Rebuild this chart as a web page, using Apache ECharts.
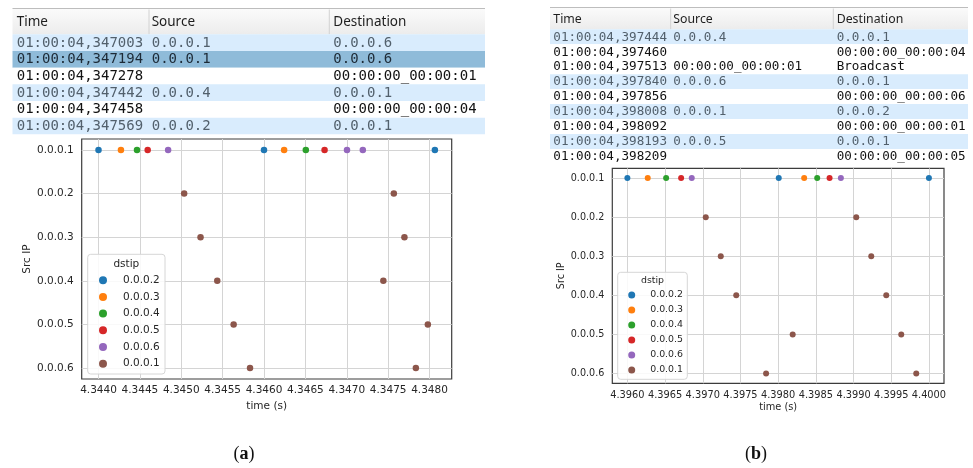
<!DOCTYPE html>
<html><head><meta charset="utf-8">
<script src="https://cdn.jsdelivr.net/npm/echarts@6/dist/echarts.min.js"></script>
<style>html,body{margin:0;padding:0;background:#fff}#c{width:973px;height:468px}</style>
</head><body><div id="c"></div>
<script>
// ---------- data ----------
const srcLabels = ['0.0.0.1','0.0.0.2','0.0.0.3','0.0.0.4','0.0.0.5','0.0.0.6'];
const dstOrder  = ['0.0.0.2','0.0.0.3','0.0.0.4','0.0.0.5','0.0.0.6','0.0.0.1'];
const xTicksA = [4.3440,4.3445,4.3450,4.3455,4.3460,4.3465,4.3470,4.3475,4.3480];
const xTicksB = [4.3960,4.3965,4.3970,4.3975,4.3980,4.3985,4.3990,4.3995,4.4000];

// panel (a) packets
const aTime = [4.344000,4.344271,4.344465,4.344594,4.344841,4.345035,4.345233,4.345435,4.345633,4.345831,
               4.346000,4.346243,4.346505,4.346732,4.347003,4.347194,4.347442,4.347569,4.347697,4.347835,4.347980,4.348065];
const aSrc  = ['0.0.0.1','0.0.0.1','0.0.0.1','0.0.0.1','0.0.0.1','0.0.0.2','0.0.0.3','0.0.0.4','0.0.0.5','0.0.0.6',
               '0.0.0.1','0.0.0.1','0.0.0.1','0.0.0.1','0.0.0.1','0.0.0.1','0.0.0.4','0.0.0.2','0.0.0.3','0.0.0.6','0.0.0.5','0.0.0.1'];
const aDst  = ['0.0.0.2','0.0.0.3','0.0.0.4','0.0.0.5','0.0.0.6','0.0.0.1','0.0.0.1','0.0.0.1','0.0.0.1','0.0.0.1',
               '0.0.0.2','0.0.0.3','0.0.0.4','0.0.0.5','0.0.0.6','0.0.0.6','0.0.0.1','0.0.0.1','0.0.0.1','0.0.0.1','0.0.0.1','0.0.0.2'];

// panel (b) packets
const bTime = [4.396000,4.396270,4.396514,4.396713,4.396854,4.397040,4.397239,4.397444,4.397840,4.398008,4.398193,
               4.398345,4.398518,4.398682,4.398832,4.399036,4.399235,4.399434,4.399633,4.399832,4.400000];
const bSrc  = ['0.0.0.1','0.0.0.1','0.0.0.1','0.0.0.1','0.0.0.1','0.0.0.2','0.0.0.3','0.0.0.4','0.0.0.6','0.0.0.1','0.0.0.5',
               '0.0.0.1','0.0.0.1','0.0.0.1','0.0.0.1','0.0.0.2','0.0.0.3','0.0.0.4','0.0.0.5','0.0.0.6','0.0.0.1'];
const bDst  = ['0.0.0.2','0.0.0.3','0.0.0.4','0.0.0.5','0.0.0.6','0.0.0.1','0.0.0.1','0.0.0.1','0.0.0.1','0.0.0.2','0.0.0.1',
               '0.0.0.3','0.0.0.4','0.0.0.5','0.0.0.6','0.0.0.1','0.0.0.1','0.0.0.1','0.0.0.1','0.0.0.1','0.0.0.2'];

// packet list tables
const tableHeaders = ['Time','Source','Destination'];
const tabATime = ['01:00:04,347003','01:00:04,347194','01:00:04,347278','01:00:04,347442','01:00:04,347458','01:00:04,347569'];
const tabASrc  = ['0.0.0.1','0.0.0.1','','0.0.0.4','','0.0.0.2'];
const tabADst  = ['0.0.0.6','0.0.0.6','00:00:00_00:00:01','0.0.0.1','00:00:00_00:00:04','0.0.0.1'];
const tabBTime = ['01:00:04,397444','01:00:04,397460','01:00:04,397513','01:00:04,397840','01:00:04,397856',
                  '01:00:04,398008','01:00:04,398092','01:00:04,398193','01:00:04,398209'];
const tabBSrc  = ['0.0.0.4','','00:00:00_00:00:01','0.0.0.6','','0.0.0.1','','0.0.0.5',''];
const tabBDst  = ['0.0.0.1','00:00:00_00:00:04','Broadcast','0.0.0.1','00:00:00_00:00:06','0.0.0.2',
                  '00:00:00_00:00:01','0.0.0.1','00:00:00_00:00:05'];

// ---------- styles / layout ----------
const colors = ['#1f77b4','#ff7f0e','#2ca02c','#d62728','#9467bd','#8c564b'];
const rowKindA = ['blue','sel','white','blue','white','blue'];
const rowKindB = ['blue','white','white','blue','white','blue','white','blue','white'];
const rowFill = {blue:'#d9ecfd', sel:'#8fbbd9', white:'#ffffff'};
const rowText = {blue:'#52606c', sel:'#1d2a36', white:'#111111'};
const txt = '#262626';

function margins(times){
  const mn = Math.min(...times), mx = Math.max(...times), m = (mx-mn)*0.05;
  return [mn-m, mx+m];
}

function buildTable(L, times, srcs, dsts, kinds){
  const els = [];
  els.push({type:'rect', shape:{x:L.x0, y:L.hy, width:L.x1-L.x0, height:L.hh},
    style:{fill:new echarts.graphic.LinearGradient(0,0,0,1,[{offset:0,color:'#fbfbfb'},{offset:1,color:'#ececec'}])}});
  els.push({type:'line', shape:{x1:L.x0, y1:L.hy, x2:L.x1, y2:L.hy}, style:{stroke:'#bdbdbd', lineWidth:1}});
  L.sep.forEach(s=>els.push({type:'line', shape:{x1:s, y1:L.hy+1, x2:s, y2:L.hy+L.hh}, style:{stroke:'#d2d2d2', lineWidth:1}}));
  tableHeaders.forEach((h,i)=>els.push({type:'text', style:{text:h, x:L.cx[i], y:L.hy+L.hh/2+1, fill:'#1e1e1e',
    fontFamily:'Noto Sans', fontSize:L.hfs, verticalAlign:'middle', align:'left'}}));
  const y0 = L.hy + L.hh;
  times.forEach((t,r)=>{
    const k = kinds[r], y = y0 + r*L.rh;
    els.push({type:'rect', shape:{x:L.x0, y:y, width:L.x1-L.x0, height:L.rh}, style:{fill:rowFill[k]}});
    [t, srcs[r], dsts[r]].forEach((v,i)=>{
      if(!v) return;
      els.push({type:'text', style:{text:v, x:L.cx[i], y:y+L.rh/2+0.5, fill:rowText[k],
        fontFamily:'DejaVu Sans Mono', fontSize:L.fs, verticalAlign:'middle', align:'left'}});
    });
  });
  return els;
}

const tabLayoutA = {x0:12.5, x1:485, hy:8.5, hh:25.8, rh:16.67, sep:[149,329.3], cx:[16.7,151.7,333.3], fs:14, hfs:13.5};
const tabLayoutB = {x0:550, x1:968, hy:7.5, hh:21.8, rh:14.95, sep:[670.7,833.3], cx:[553.3,673.3,836.7], fs:12.6, hfs:12.3};

function seriesFor(times, srcs, dsts, gi, size){
  return dstOrder.map((d,ci)=>({
    type:'scatter', name:d, xAxisIndex:gi, yAxisIndex:gi,
    symbol:'circle', symbolSize:size,
    itemStyle:{color:colors[ci], opacity:1},
    data: times.map((t,i)=>dsts[i]===d ? [t, srcLabels.indexOf(srcs[i])] : null).filter(v=>v),
    z:3
  }));
}

function xAxisFor(gi, ticks, range, fs){
  return {type:'value', gridIndex:gi, min:range[0], max:range[1],
    name:'time (s)', nameLocation:'middle', nameGap: gi===0?21:19,
    nameTextStyle:{fontFamily:'DejaVu Sans', fontSize:fs, color:txt},
    axisLine:{show:false}, axisTick:{show:false, customValues:ticks},
    axisLabel:{customValues:ticks, formatter:v=>v.toFixed(4), fontFamily:'DejaVu Sans', fontSize:fs, color:txt, margin: gi===0?6:7},
    splitLine:{show:true, lineStyle:{color:'#d4d4d4', width:1}}};
}
function yAxisFor(gi, fs){
  const ticks = srcLabels.map((s,i)=>i);
  return {type:'value', gridIndex:gi, min:-0.25, max:5.25, inverse:true,
    name:'Src IP', nameLocation:'middle', nameGap: gi===0?47:44, nameRotate:90,
    nameTextStyle:{fontFamily:'DejaVu Sans', fontSize:fs, color:txt},
    axisLine:{show:false}, axisTick:{show:false, customValues:ticks},
    axisLabel:{customValues:ticks, formatter:v=>srcLabels[Math.round(v)], fontFamily:'DejaVu Sans', fontSize:fs, color:txt, margin:8},
    splitLine:{show:true, lineStyle:{color:'#d4d4d4', width:1}}};
}

const chart = echarts.init(document.getElementById('c'), null, {renderer:'canvas'});

const graphics = []
  .concat(buildTable(tabLayoutA, tabATime, tabASrc, tabADst, rowKindA))
  .concat(buildTable(tabLayoutB, tabBTime, tabBSrc, tabBDst, rowKindB))
  .concat([
    {type:'rect', z:3, shape:{x:87.7, y:254.3, width:77.3, height:119.7, r:3}, style:{fill:'rgba(255,255,255,0.85)', stroke:'#d6d6d6', lineWidth:1}},
    {type:'text', z:4, style:{text:'dstip', x:126.3, y:264.5, align:'center', verticalAlign:'middle', fill:txt, fontFamily:'DejaVu Sans', fontSize:10.5}},
    {type:'rect', z:3, shape:{x:617.7, y:272.3, width:69.6, height:107, r:3}, style:{fill:'rgba(255,255,255,0.85)', stroke:'#d6d6d6', lineWidth:1}},
    {type:'text', z:4, style:{text:'dstip', x:652.5, y:281, align:'center', verticalAlign:'middle', fill:txt, fontFamily:'DejaVu Sans', fontSize:9.4}},
    {type:'text', z:4, style:{text:'{p|(}{b|a}{p|)}', x:244, y:454, align:'center', verticalAlign:'middle',
      rich:{p:{fontFamily:'Liberation Serif', fontSize:18, fill:'#111'}, b:{fontFamily:'Liberation Serif', fontSize:18, fontWeight:'bold', fill:'#111'}}}},
    {type:'text', z:4, style:{text:'{p|(}{b|b}{p|)}', x:756, y:454, align:'center', verticalAlign:'middle',
      rich:{p:{fontFamily:'Liberation Serif', fontSize:18, fill:'#111'}, b:{fontFamily:'Liberation Serif', fontSize:18, fontWeight:'bold', fill:'#111'}}}}
  ]);

chart.setOption({
  animation:false,
  backgroundColor:'#fff',
  grid:[
    {left:81.7, top:139, width:370, height:240, show:true, borderColor:'#3c3c3c', borderWidth:1.2, backgroundColor:'transparent'},
    {left:612.3, top:168.3, width:331.7, height:215, show:true, borderColor:'#3c3c3c', borderWidth:1.2, backgroundColor:'transparent'}
  ],
  xAxis:[xAxisFor(0, xTicksA, margins(aTime), 10.5), xAxisFor(1, xTicksB, margins(bTime), 9.8)],
  yAxis:[yAxisFor(0, 10.5), yAxisFor(1, 9.6)],
  legend:[
    {orient:'vertical', left:99, top:274.2, padding:0, itemWidth:30, itemHeight:8, itemGap:4.7,
     icon:'circle', data:dstOrder, z:5,
     textStyle:{fontFamily:'DejaVu Sans', fontSize:10.5, color:txt, lineHeight:12}},
    {orient:'vertical', left:628.2, top:289.5, padding:0, itemWidth:27, itemHeight:7, itemGap:4,
     icon:'circle', data:dstOrder, z:5,
     textStyle:{fontFamily:'DejaVu Sans', fontSize:9.4, color:txt, lineHeight:11}}
  ],
  series: seriesFor(aTime, aSrc, aDst, 0, 6.5).concat(seriesFor(bTime, bSrc, bDst, 1, 6)),
  graphic: graphics
});
</script>
</body></html>
